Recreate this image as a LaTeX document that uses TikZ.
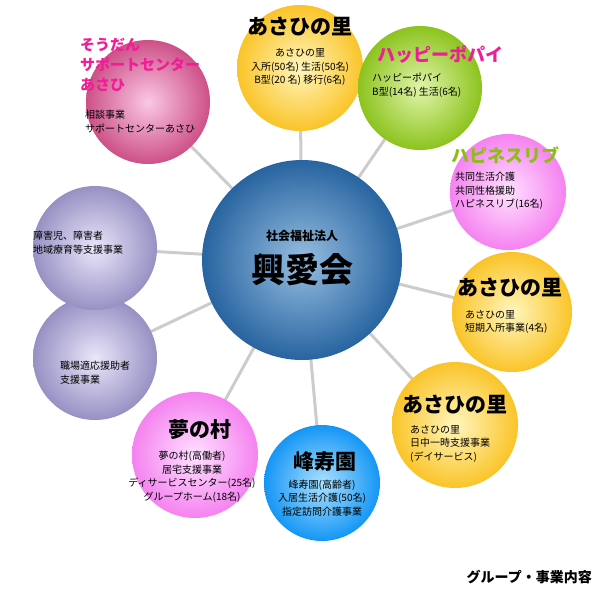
\documentclass[tikz,border=0pt]{standalone}
\usepackage{fontspec}
\setmainfont{Noto Sans CJK JP}
\definecolor{ygo}{RGB}{250,196,40}\definecolor{ygi}{RGB}{255,246,190}
\definecolor{pko}{RGB}{205,80,135}\definecolor{pki}{RGB}{250,200,230}
\definecolor{gro}{RGB}{140,195,30}\definecolor{gri}{RGB}{225,245,170}
\definecolor{ppo}{RGB}{245,130,240}\definecolor{ppi}{RGB}{255,225,255}
\definecolor{blo}{RGB}{20,150,245}\definecolor{bli}{RGB}{170,225,255}
\definecolor{puo}{RGB}{150,145,195}\definecolor{pui}{RGB}{235,230,250}
\definecolor{cto}{RGB}{40,100,160}\definecolor{cti}{RGB}{150,190,225}
\definecolor{mag}{RGB}{240,30,150}\definecolor{grt}{RGB}{140,190,20}
\tikzset{
 spoke/.style={draw=black!20,line width=3pt},
 body/.style={font=\fontsize{10}{13.5}\selectfont,align=left,inner sep=0},
 bodyc/.style={font=\fontsize{10}{13.5}\selectfont,align=center,inner sep=0},
 ttl/.style={font=\bfseries\fontsize{21}{24}\selectfont,inner sep=0},
 pttl/.style={font=\bfseries\fontsize{15}{20}\selectfont,inner sep=0,align=left,anchor=north west},
}
\begin{document}
\begin{tikzpicture}[x=1pt,y=-1pt]
\useasboundingbox (0,0) rectangle (611,600);
\coordinate (c) at (302,260);
\foreach \p in {(148,102),(300,68),(420,88),(508,192),(512,312),(455,425),(322,483),(195,455),(95,358),(95,248)}
  \draw[spoke] (c) -- \p;
\shade[inner color=cti,outer color=cto] (302,260) circle (100);
\node[inner sep=0,font=\bfseries\fontsize{12}{14}\selectfont] (t1) at (302,236) {社会福祉法人};
\node[inner sep=0,font=\bfseries\fontsize{34}{38}\selectfont] (t2) at (302,270) {興愛会};
\shade[inner color=pki,outer color=pko] (148,102) circle (62);
\shade[inner color=ygi,outer color=ygo] (300,68) circle (63);
\shade[inner color=gri,outer color=gro] (420,88) circle (62);
\shade[inner color=ppi,outer color=ppo] (508,192) circle (58);
\shade[inner color=ygi,outer color=ygo] (512,312) circle (60);
\shade[inner color=ygi,outer color=ygo] (455,425) circle (63);
\shade[inner color=bli,outer color=blo] (322,483) circle (58);
\shade[inner color=ppi,outer color=ppo] (195,455) circle (63);
\shade[inner color=pui,outer color=puo] (95,358) circle (62);
\shade[inner color=pui,outer color=puo] (95,248) circle (62);
\node[pttl,text=mag] (a0) at (80,38) {そうだん\\サポートセンター\\あさひ};
\node[body,anchor=north west] (a1) at (85,110) {相談事業\\サポートセンターあさひ};
\node[ttl] (b0) at (300,27) {あさひの里};
\node[bodyc] (b1) at (300,67) {あさひの里\\入所(50名)\ 生活(50名)\\B型(20 名)\ 移行(6名)};
\node[ttl,font=\bfseries\fontsize{18}{20}\selectfont,text=mag] (c0) at (440,55) {ハッピーポパイ};
\node[body,anchor=north west] (c1) at (372,73) {ハッピーポパイ\\B型(14名)\ 生活(6名)};
\node[ttl,font=\bfseries\fontsize{18}{20}\selectfont,text=grt] (d0) at (505,155) {ハピネスリブ};
\node[body,anchor=north west] (d1) at (455,172) {共同生活介護\\共同性格援助\\ハピネスリブ(16名)};
\node[ttl] (e0) at (510,288) {あさひの里};
\node[body,anchor=north west] (e1) at (465,310) {あさひの里\\短期入所事業(4名)};
\node[ttl] (f0) at (455,405) {あさひの里};
\node[body,anchor=north west] (f1) at (410,425) {あさひの里\\日中一時支援事業\\(デイサービス)};
\node[ttl] (g0) at (325,462) {峰寿園};
\node[bodyc] (g1) at (322,498) {峰寿園(高齢者)\\入居生活介護(50名)\\指定訪問介護事業};
\node[ttl] (h0) at (200,430) {夢の村};
\node[bodyc] (h1) at (192,477) {夢の村(高働者)\\居宅支援事業\\ディサービスセンター(25名)\\グループホーム(18名)};
\node[body,anchor=north west] (i1) at (60,361) {職場適応援助者\\支援事業};
\node[body,anchor=north west] (j1) at (33,231) {障害児、障害者\\地域療育等支援事業};
\node[inner sep=0,anchor=east,font=\bfseries\fontsize{14}{16}\selectfont] (cap) at (592,577) {グループ・事業内容};
\end{tikzpicture}
\end{document}
